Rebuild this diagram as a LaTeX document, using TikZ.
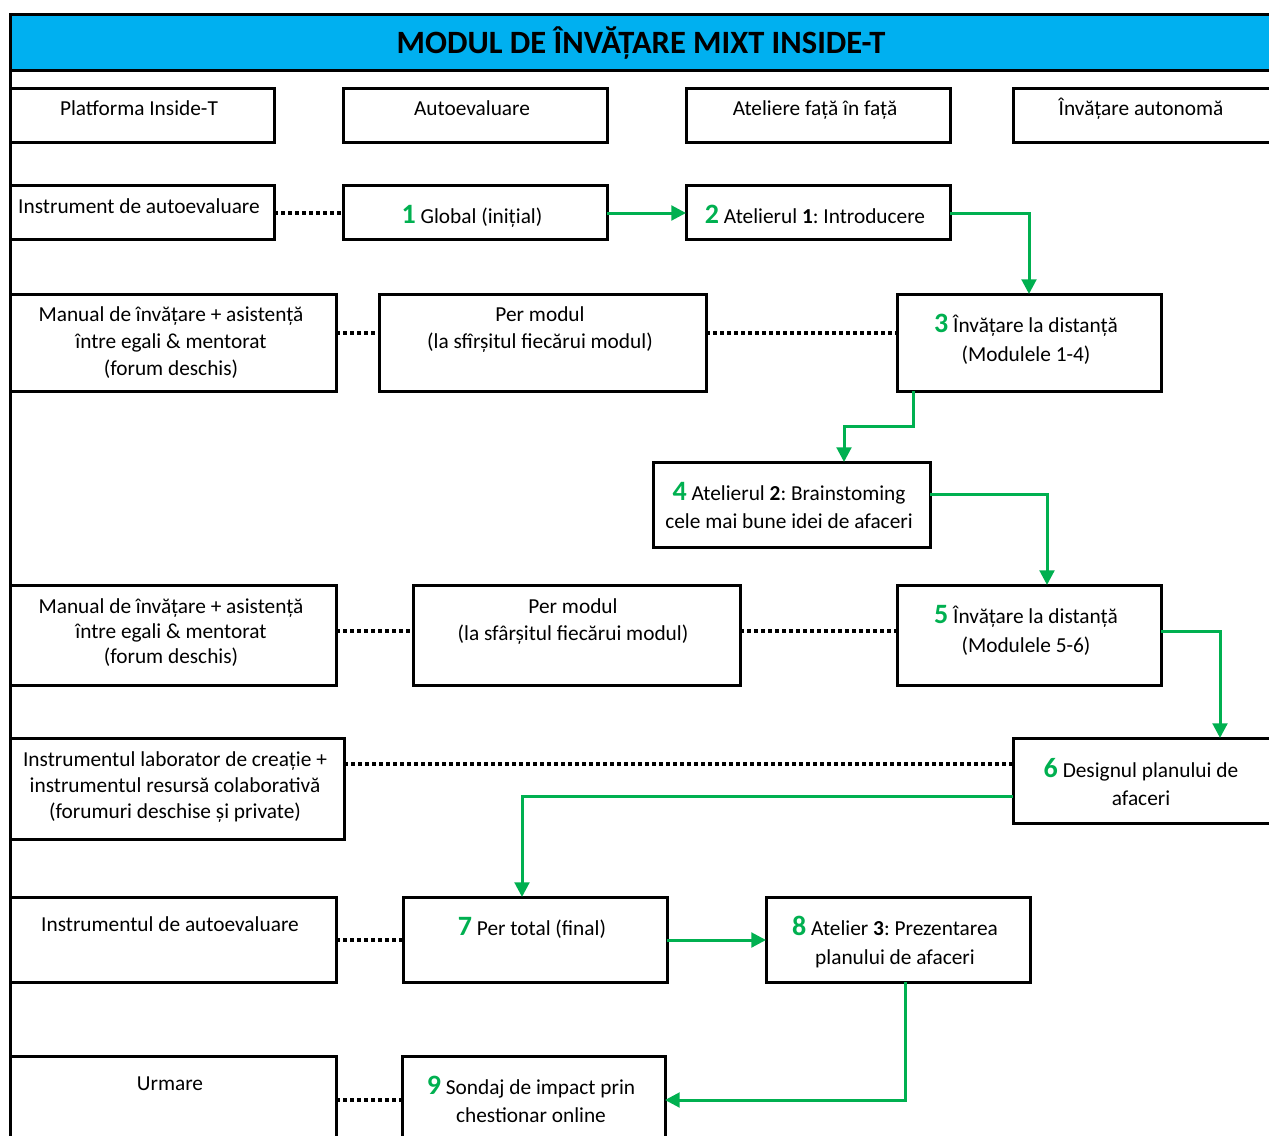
\documentclass[tikz,border=0pt]{standalone}
\usepackage{fontspec}
\setmainfont{Carlito}
\usetikzlibrary{arrows.meta}
\frenchspacing
\definecolor{grn}{HTML}{00B050}
\definecolor{cyanbar}{HTML}{00B0F0}
\newcommand\ml[1]{\begin{tabular}[t]{@{}c@{}}#1\end{tabular}}
\newcommand\nr[1]{{\fontsize{21}{21}\selectfont\bfseries\color{grn}#1}}
\newcommand\bx[6][]{\node[box,#1,anchor=north west,minimum width={(#5-#3)*0.75pt},minimum height={(#6-#4)*0.75pt}] (#2) at (#3,#4) {};}
\begin{document}
\begin{tikzpicture}[x=0.75pt,y=-0.75pt,
  box/.style={draw=black,line width=2.25pt,fill=white,inner sep=0pt,outer sep=0pt,rectangle},
  txt/.style={inner sep=0pt,outer sep=0pt,font=\fontsize{16}{20.25}\selectfont\frenchspacing,anchor=base},
  dotln/.style={line width=3.2pt,dash pattern=on 3pt off 2.25pt},
  garr/.style={draw=grn,line width=2.25pt,-{Triangle[length=11pt,width=11pt]}},
]
\useasboundingbox (0,0) rectangle (1269,1135);
\clip (0,0) rectangle (1269,1135);
\fill[white] (0,0) rectangle (1269,1135);

% helper coordinates
\coordinate (y213) at (0,213);
\coordinate (y333) at (0,333);
\coordinate (y426) at (0,426);
\coordinate (y494) at (0,494);
\coordinate (y631) at (0,631);
\coordinate (y764) at (0,764);
\coordinate (y796) at (0,796);
\coordinate (y940) at (0,940);
\coordinate (y1100) at (0,1100);
\coordinate (x913) at (913,0);
\coordinate (x844) at (844,0);
\coordinate (x1047) at (1047,0);
\coordinate (x1220) at (1220,0);
\coordinate (x522) at (522,0);
\coordinate (x905) at (905,0);

% left frame line
\draw[line width=2.25pt] (10,14) -- (10,1145);

% title
\bx[fill=cyanbar]{title}{10}{14}{1290}{70}
\node[txt] (title-t) at (641,53) {\fontsize{24.4}{28}\selectfont\bfseries MODUL DE ÎNVĂȚARE MIXT INSIDE-T};

% headers
\bx{h1}{10}{88}{274}{142}
\node[txt] (h1-t) at (139,115) {Platforma Inside-T};
\bx{h2}{343}{88}{607}{142}
\node[txt] (h2-t) at (472,115) {Autoevaluare};
\bx{h3}{686}{88}{950}{142}
\node[txt] (h3-t) at (815,115) {Ateliere față în față};
\bx{h4}{1013}{88}{1272}{142}
\node[txt] (h4-t) at (1141,115) {Învățare autonomă};

% row 1
\bx{i1}{10}{185}{274}{239}
\node[txt] (i1-t) at (139,213) {Instrument de autoevaluare};
\bx{g1}{343}{185}{607}{239}
\node[txt] (g1-t) at (472,223) {\nr{1} Global (inițial)};
\bx{g2}{686}{185}{950}{239}
\node[txt] (g2-t) at (815,223) {\nr{2} Atelierul \textbf{1}: Introducere};

% row 2
\bx{m1}{10}{294}{336}{391}
\node[txt] (m1-t) at (171,321) {\ml{Manual de învățare + asistență\\între egali \& mentorat\\(forum deschis)}};
\bx{p1}{379}{294}{706}{391}
\node[txt] (p1-t) at (540,321) {\ml{Per modul\\(la sfîrșitul fiecărui modul)}};
\bx{g3}{897}{294}{1161}{391}
\node[txt] (g3-t) at (1026,332) {\ml{\nr{3} Învățare la distanță\\[1.5pt](Modulele 1-4)}};

% row 4
\bx{g4}{653}{462}{930}{547}
\node[txt] (g4-t) at (789,500) {\ml{\nr{4} Atelierul \textbf{2}: Brainstoming\\[1pt]cele mai bune idei de afaceri}};

% row 5
\bx{m2}{10}{585}{336}{685}
\node[txt] (m2-t) at (171,613) {\ml{Manual de învățare + asistență\\[-1.5pt]între egali \& mentorat\\[-1.5pt](forum deschis)}};
\bx{p2}{413}{585}{740}{685}
\node[txt] (p2-t) at (573,613) {\ml{Per modul\\(la sfârșitul fiecărui modul)}};
\bx{g5}{897}{585}{1161}{685}
\node[txt] (g5-t) at (1026,623) {\ml{\nr{5} Învățare la distanță\\[1.5pt](Modulele 5-6)}};

% row 6
\bx{lab}{10}{738}{344}{839}
\node[txt] (lab-t) at (175,766) {\ml{Instrumentul laborator de creație +\\[-0.75pt]instrumentul resursă colaborativă\\[-0.75pt](forumuri deschise și private)}};
\bx{g6}{1013}{738}{1272}{823}
\node[txt] (g6-t) at (1141,777) {\ml{\nr{6} Designul planului de\\[1pt]afaceri}};

% row 7
\bx{i2}{10}{897}{336}{982}
\node[txt] (i2-t) at (170,931) {Instrumentul de autoevaluare};
\bx{g7}{403}{897}{667}{982}
\node[txt] (g7-t) at (532,935) {\nr{7} Per total (final)};
\bx{g8}{766}{897}{1030}{982}
\node[txt] (g8-t) at (895,935) {\ml{\nr{8} Atelier \textbf{3}: Prezentarea\\[1.5pt]planului de afaceri}};

% row 9
\bx{urm}{10}{1056}{336}{1150}
\node[txt] (urm-t) at (170,1090) {Urmare};
\bx{g9}{402}{1056}{665}{1150}
\node[txt] (g9-t) at (531,1094) {\ml{\nr{9} Sondaj de impact prin\\[1pt]chestionar online}};

% dotted connectors
\draw[dotln] (i1.east |- y213) -- (g1.west |- y213);
\draw[dotln] (m1.east |- y333) -- (p1.west |- y333);
\draw[dotln] (p1.east |- y333) -- (g3.west |- y333);
\draw[dotln] (m2.east |- y631) -- (p2.west |- y631);
\draw[dotln] (p2.east |- y631) -- (g5.west |- y631);
\draw[dotln] (lab.east |- y764) -- (g6.west |- y764);
\draw[dotln] (i2.east |- y940) -- (g7.west |- y940);
\draw[dotln] (urm.east |- y1100) -- (g9.west |- y1100);

% green flow
\draw[garr] (g1.east |- y213) -- (g2.west |- y213);
\draw[garr] (g2.east |- y213) -| (g3.north);
\draw[garr] (g3.south -| x913) |- (x844 |- y426) -- (g4.north -| x844);
\draw[garr] (g4.east |- y494) -| (g5.north -| x1047);
\draw[garr] (g5.east |- y631) -| (g6.north -| x1220);
\draw[garr] (g6.west |- y796) -| (g7.north -| x522);
\draw[garr] (g7.east |- y940) -- (g8.west |- y940);
\draw[garr] (g8.south -| x905) |- (g9.east |- y1100);
\end{tikzpicture}
\end{document}
